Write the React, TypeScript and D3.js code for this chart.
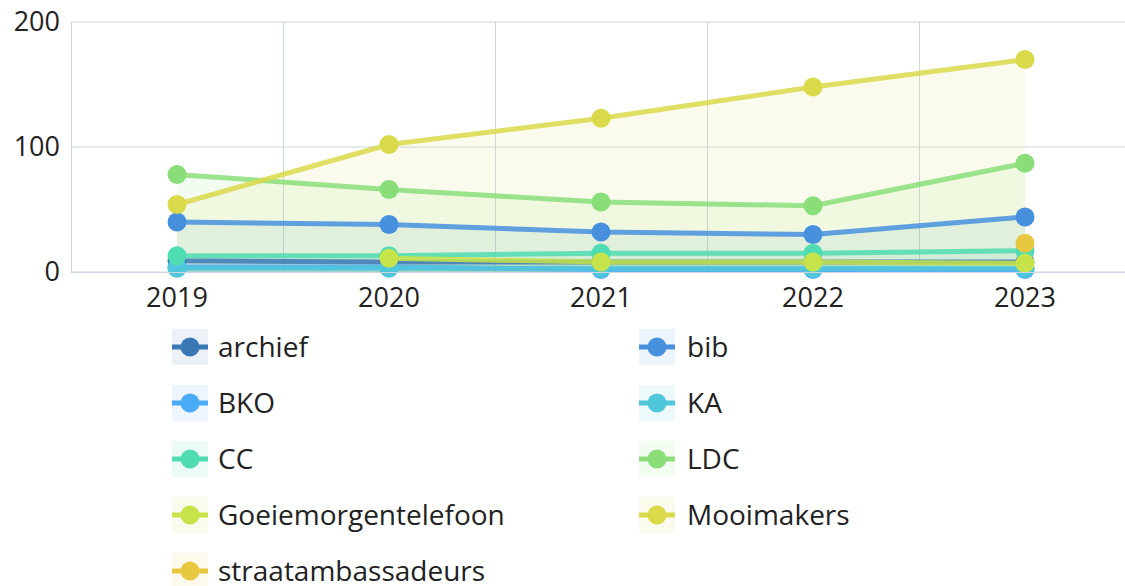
import React, { useEffect, useRef } from "react";
import * as d3 from "d3";

// data
const years = ["2019", "2020", "2021", "2022", "2023"];
const seriesNames = [
  "archief",
  "bib",
  "BKO",
  "KA",
  "CC",
  "LDC",
  "Goeiemorgentelefoon",
  "Mooimakers",
  "straatambassadeurs",
];
const seriesColors = [
  "#3a78b5",
  "#4690de",
  "#4aabf7",
  "#4fc6da",
  "#4fdcb2",
  "#8ade7a",
  "#c6e34a",
  "#d9d94a",
  "#e8c840",
];
const archief = [9, 8, 8, 8, 8];
const bib = [40, 38, 32, 30, 44];
const BKO = [4, 4, 2, 2, 2];
const KA = [3, 3, 3, 3, 3];
const CC = [13, 13, 15, 15, 17];
const LDC = [78, 66, 56, 53, 87];
const goeiemorgen = [null, 11, 8, 8, 7];
const mooimakers = [54, 102, 123, 148, 170];
const straat = [null, null, null, null, 23];
const seriesValues: (number | null)[][] = [
  archief,
  bib,
  BKO,
  KA,
  CC,
  LDC,
  goeiemorgen,
  mooimakers,
  straat,
];
const yTicks = [0, 100, 200];

const W = 1125;
const H = 586;
const margin = { top: 22, right: -6, bottom: 314, left: 71 };

const App = () => {
  const svgRef = useRef<SVGSVGElement>(null);

  useEffect(() => {
    const svg = d3.select(svgRef.current);
    svg.selectAll("*").remove();
    const font = "'Segoe UI', 'Open Sans', 'Noto Sans', sans-serif";

    const x = d3
      .scaleBand()
      .domain(years)
      .range([margin.left, W - margin.right])
      .padding(0);
    const y = d3
      .scaleLinear()
      .domain([0, 200])
      .range([H - margin.bottom, margin.top]);
    const cx = (i: number) => (x(years[i]) as number) + x.bandwidth() / 2;

    const grid = svg.append("g");
    // horizontal grid
    grid
      .selectAll("line.h")
      .data(yTicks)
      .join("line")
      .attr("x1", margin.left)
      .attr("x2", W)
      .attr("y1", (d) => y(d))
      .attr("y2", (d) => y(d))
      .attr("stroke", "#ccd6e0")
      .attr("stroke-width", 1);
    // vertical grid at band edges
    grid
      .selectAll("line.v")
      .data(years)
      .join("line")
      .attr("x1", (d) => (x(d) as number) + 0.5)
      .attr("x2", (d) => (x(d) as number) + 0.5)
      .attr("y1", y(200))
      .attr("y2", y(0))
      .attr("stroke", "#ccd6e0")
      .attr("stroke-width", 1);

    // y tick labels
    svg
      .append("g")
      .selectAll("text")
      .data(yTicks)
      .join("text")
      .attr("x", 60)
      .attr("y", (d) => y(d))
      .attr("dy", "0.35em")
      .attr("text-anchor", "end")
      .attr("font-family", font)
      .attr("font-size", 27)
      .attr("fill", "#222")
      .text((d) => d);

    // x tick labels
    svg
      .append("g")
      .selectAll("text")
      .data(years)
      .join("text")
      .attr("x", (d, i) => cx(i))
      .attr("y", 307)
      .attr("text-anchor", "middle")
      .attr("font-family", font)
      .attr("font-size", 27)
      .attr("fill", "#222")
      .text((d) => d);

    const pts = (vals: (number | null)[]) =>
      vals.map((v, i) => ({ i, v }));

    const area = d3
      .area<{ i: number; v: number | null }>()
      .defined((d) => d.v != null)
      .x((d) => cx(d.i))
      .y0(y(0))
      .y1((d) => y(d.v as number));
    const line = d3
      .line<{ i: number; v: number | null }>()
      .defined((d) => d.v != null)
      .x((d) => cx(d.i))
      .y((d) => y(d.v as number));

    const areas = svg.append("g");
    const lines = svg.append("g");
    seriesValues.forEach((vals, s) => {
      areas
        .append("path")
        .datum(pts(vals))
        .attr("d", area)
        .attr("fill", seriesColors[s])
        .attr("fill-opacity", 0.1);
    });
    seriesValues.forEach((vals, s) => {
      const g = lines.append("g");
      g.append("path")
        .datum(pts(vals))
        .attr("d", line)
        .attr("fill", "none")
        .attr("stroke", seriesColors[s])
        .attr("stroke-opacity", 0.85)
        .attr("stroke-width", 5)
        .attr("stroke-linejoin", "round");
      g.selectAll("circle")
        .data(pts(vals).filter((d) => d.v != null))
        .join("circle")
        .attr("cx", (d) => cx(d.i))
        .attr("cy", (d) => y(d.v as number))
        .attr("r", 9.5)
        .attr("fill", seriesColors[s]);
    });

    // x axis line
    svg
      .append("line")
      .attr("x1", margin.left)
      .attr("x2", W)
      .attr("y1", y(0) + 0.5)
      .attr("y2", y(0) + 0.5)
      .attr("stroke", "#ccd6e0");

    // legend, two columns
    const legend = svg.append("g");
    seriesNames.forEach((name, s) => {
      const col = s % 2;
      const row = Math.floor(s / 2);
      const lx = col === 0 ? 172 : 639;
      const ly = 347 + row * 56;
      const item = legend.append("g").attr("transform", `translate(${lx},${ly})`);
      item
        .append("rect")
        .attr("x", 0)
        .attr("y", -18)
        .attr("width", 36)
        .attr("height", 36)
        .attr("fill", seriesColors[s])
        .attr("fill-opacity", 0.1);
      item
        .append("line")
        .attr("x1", 0)
        .attr("x2", 36)
        .attr("y1", 0)
        .attr("y2", 0)
        .attr("stroke", seriesColors[s])
        .attr("stroke-width", 5);
      item
        .append("circle")
        .attr("cx", 18)
        .attr("cy", 0)
        .attr("r", 9.5)
        .attr("fill", seriesColors[s]);
      item
        .append("text")
        .attr("x", col === 0 ? 46 : 48)
        .attr("y", 0)
        .attr("dy", "0.35em")
        .attr("font-family", font)
        .attr("font-size", 28)
        .attr("fill", "#222")
        .text(name);
    });
  }, []);

  return (
    <svg
      ref={svgRef}
      width={W}
      height={H}
      style={{ position: "absolute", left: 0, top: 0, display: "block" }}
    />
  );
};

export default App;
